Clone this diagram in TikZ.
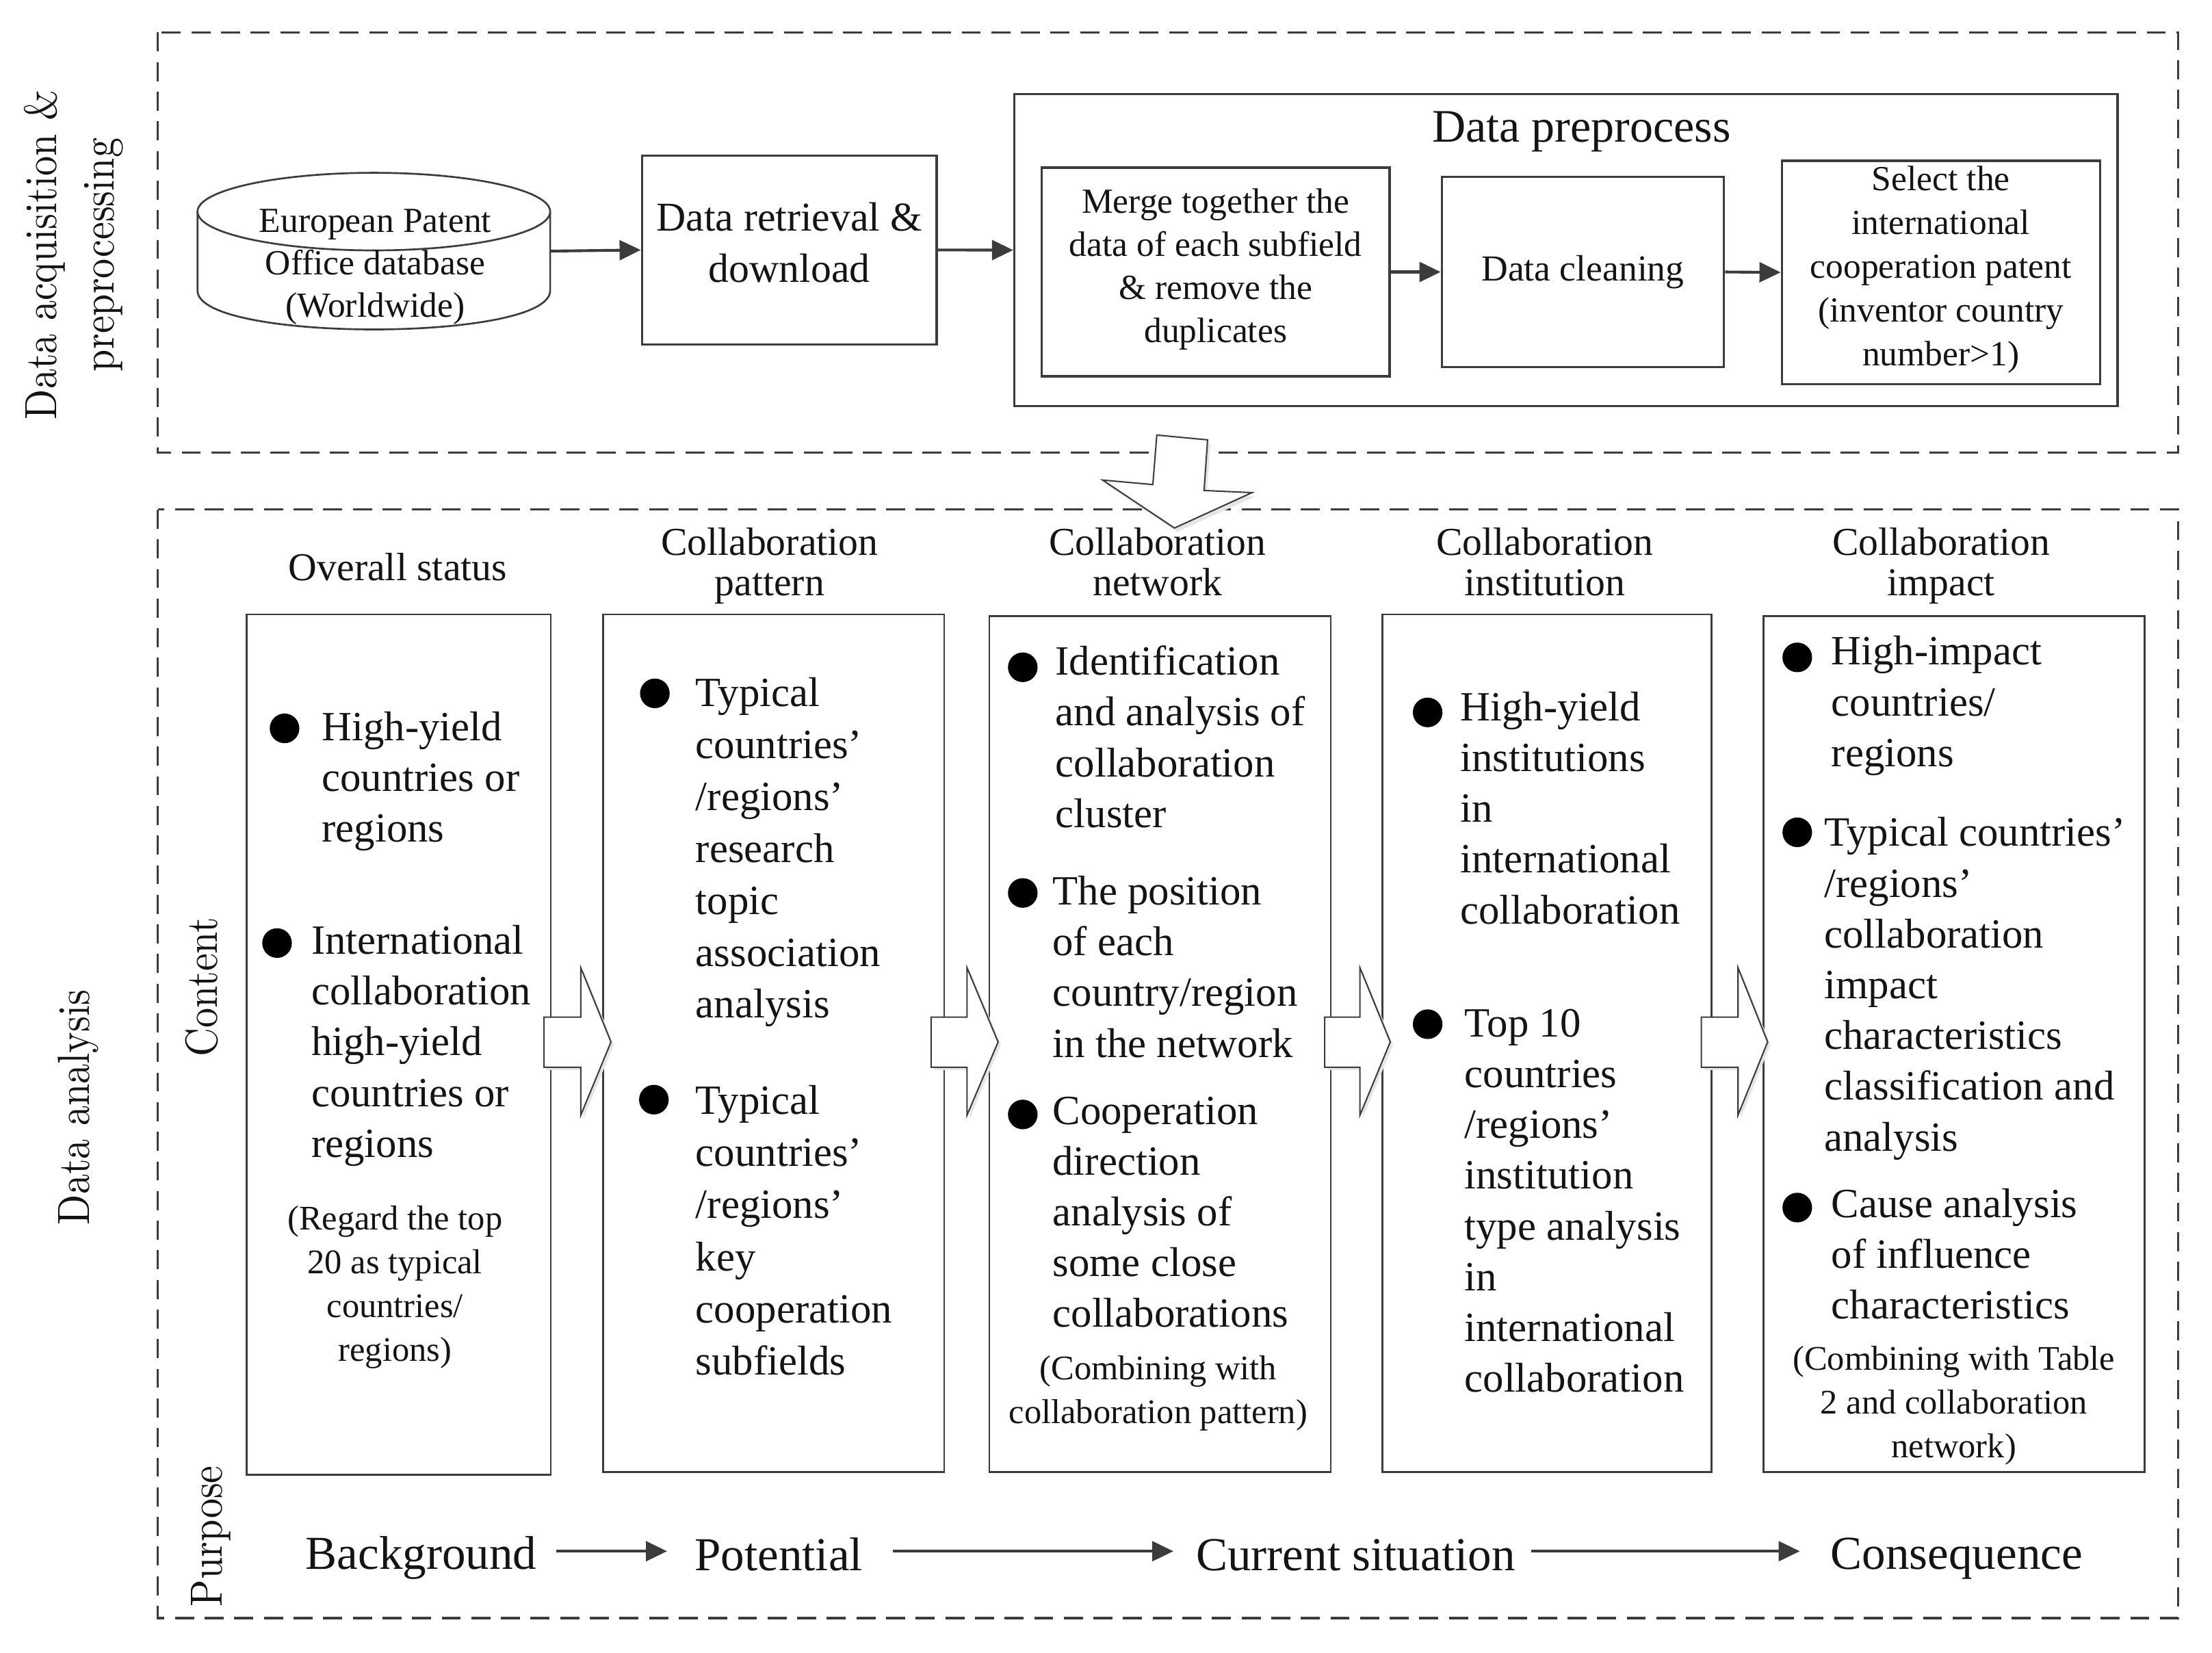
\documentclass[tikz,border=0pt]{standalone}
\usepackage{fontspec}
\setmainfont{Liberation Serif}
\newfontfamily\lmfont{lmroman10-regular.otf}
\usetikzlibrary{arrows.meta}
\definecolor{ln}{HTML}{3C3C3C}
\definecolor{tx}{HTML}{141414}
\newcommand\fsz[2]{\fontsize{#1}{#2}\selectfont}
\newcommand\hollowarr[3]{%
  \fill[black!10] (#1+2,723) -- (#2+2,723) -- (#2+2,688) -- (#3+2,740.6) -- (#2+2,792.5) -- (#2+2,758.5) -- (#1+2,758.5) -- cycle;
  \draw[hollow] (#1,721) -- (#2,721) -- (#2,686) -- (#3,738.6) -- (#2,790.5) -- (#2,756.5) -- (#1,756.5) -- cycle;}
\begin{document}
\begin{tikzpicture}[x=1pt, y=-1pt, line join=miter,
  dashbox/.style={draw=ln, line width=1.5pt, dash pattern=on 13.5pt off 7.5pt},
  struts/.style={execute at begin node=\strut, execute at end node=\strut},
  topbox/.style={draw=ln, line width=1.6pt, inner sep=0pt, align=center, text=tx, struts},
  colbox/.style={draw=ln, line width=1.4pt, inner sep=0pt},
  body/.style={font=\fsz{29.5}{36}, align=left, anchor=west, inner sep=0pt, text=tx, struts},
  note/.style={font=\fsz{24.5}{31}, align=center, inner sep=0pt, text=tx, struts},
  hdr/.style={font=\fsz{28}{29}, align=center, inner sep=0pt, text=tx, struts},
  bul/.style={circle, fill=black, inner sep=0pt, minimum size=21pt},
  rot/.style={font=\lmfont\fsz{32}{40.8}, rotate=90, xscale=0.88, inner sep=0pt, text=tx, align=center},
  flow/.style={draw=ln, line width=2pt, -{Triangle[length=15pt,width=14pt]}},
  hollow/.style={draw=ln, line width=1pt, fill=white},
  purp/.style={font=\fsz{33.5}{40}, inner sep=0pt, text=tx, execute at begin node={\rule[-6pt]{0pt}{39pt}}}
]
\useasboundingbox (0,0) rectangle (1568,1171.3);
\fill[white] (0,0) rectangle (1568,1171.3);

% ---------- dashed regions
\draw[dashbox] (111.8,23) rectangle (1544,321);
\draw[dashbox] (111.8,361.3) rectangle (1544,1147);

% ---------- side labels
\node[rot, struts, anchor=center] (labA) at (55.1,180.6) {Data acquisition \&\\preprocessing};
\node[rot, anchor=base] (labB) at (63.1,785) {Data analysis};
\node[rot, anchor=base] (labC) at (154,699.6) {Content};
\node[rot, anchor=base] (labD) at (157.6,1089) {Purpose};

% ---------- top row
\node[minimum width=250pt, minimum height=111pt, inner sep=0pt] (db) at (265,178) {};
\draw[ln, line width=1.3pt] (265,150) ellipse [x radius=125, y radius=27.5];
\draw[ln, line width=1.3pt] (140,150) -- (140,206) .. controls (140,242.7) and (390,242.7) .. (390,206) -- (390,150);
\node[font=\fsz{25}{30}, align=center, inner sep=0pt, text=tx, struts] (dbt) at (266,191) {European Patent\\Office database\\(Worldwide)};

\node[topbox, minimum width=209pt, minimum height=134pt, font=\fsz{29}{36}] (ret) at (559.5,177.2) {Data retrieval \&\\download};

\node[topbox, minimum width=782pt, minimum height=221pt] (pre) at (1110,177.3) {};
\node[font=\fsz{33}{40}, inner sep=0pt, text=tx, struts] (pret) at (1121,92.5) {Data preprocess};

\node[topbox, minimum width=246.5pt, minimum height=148pt, font=\fsz{25}{30.6}] (mrg) at (861.7,192.8) {Merge together the\\data of each subfield\\\& remove the\\duplicates};
\node[topbox, minimum width=200pt, minimum height=135pt, font=\fsz{26}{31}] (cln) at (1122,192.8) {Data cleaning};
\node[topbox, minimum width=225.6pt, minimum height=158.2pt, font=\fsz{25}{31.1}] (sel) at (1375.8,193.1) {Select the\\international\\cooperation patent\\(inventor country\\number>1)};

\draw[flow] (db.east) -- (ret.west);
\draw[flow] (ret.east) -- (pre.west);
\draw[flow] (mrg.east) -- (cln.west);
\draw[flow] (cln.east) -- (sel.west);

% ---------- big down arrow
\fill[black!10] (822,311) -- (858,314.5) -- (855.5,350.5) -- (889.5,352) -- (834.5,377) -- (783.6,343) -- (819.2,346.2) -- cycle;
\draw[hollow] (820,308.4) -- (856,311.8) -- (853.5,347.7) -- (887.5,349.2) -- (832.5,374.3) -- (781.6,340.3) -- (817.2,343.5) -- cycle;

% ---------- column headers
\node[hdr] (h1) at (282,405.5) {Overall status};
\node[hdr] (h2) at (545.5,402.5) {Collaboration\\pattern};
\node[hdr] (h3) at (820.5,402.5) {Collaboration\\network};
\node[hdr] (h4) at (1095,402.5) {Collaboration\\institution};
\node[hdr] (h5) at (1376,402.5) {Collaboration\\impact};

% ---------- column boxes
\node[colbox, minimum width=215.4pt, minimum height=609.8pt] (c1) at (282.7,740.4) {};
\node[colbox, minimum width=241.6pt, minimum height=608.1pt] (c2) at (548.5,739.55) {};
\node[colbox, minimum width=242pt, minimum height=606.7pt] (c3) at (822.3,740.25) {};
\node[colbox, minimum width=233.2pt, minimum height=608.1pt] (c4) at (1096.7,739.55) {};
\node[colbox, minimum width=270pt, minimum height=606.7pt] (c5) at (1385.2,740.25) {};

% ---------- hollow arrows between columns
\hollowarr{385.6}{411.7}{433.1}
\hollowarr{660}{685.5}{707.5}
\hollowarr{939}{964}{985.5}
\hollowarr{1206}{1232}{1253}

% ---------- column 1
\node[bul] (u1a) at (201.7,516.3) {};
\node[body] (t1a) at (228,556) {High-yield\\countries or\\regions};
\node[bul] (u1b) at (196.4,668.5) {};
\node[body] (t1b) at (220.5,743.5) {International\\collaboration\\high-yield\\countries or\\regions};
\node[note] (n1) at (280,914.5) {(Regard the top\\20 as typical\\countries/\\regions)};

% ---------- column 2
\node[bul] (u2a) at (464.2,491.5) {};
\node[body, font=\fsz{29.5}{36.8}] (t2a) at (493,606.5) {Typical\\countries’\\/regions’\\research\\topic\\association\\analysis};
\node[bul] (u2b) at (463.5,779.5) {};
\node[body, font=\fsz{29.5}{37}] (t2b) at (493,877.5) {Typical\\countries’\\/regions’\\key\\cooperation\\subfields};

% ---------- column 3
\node[bul] (u3a) at (725,473) {};
\node[body] (t3a) at (748,527.5) {Identification\\and analysis of\\collaboration\\cluster};
\node[bul] (u3b) at (725,633) {};
\node[body] (t3b) at (746,690.5) {The position\\of each\\country/region\\in the network};
\node[bul] (u3c) at (725,790) {};
\node[body] (t3c) at (746,864.5) {Cooperation\\direction\\analysis of\\some close\\collaborations};
\node[note] (n3) at (821,989.5) {(Combining with\\collaboration pattern)};

% ---------- column 4
\node[bul] (u4a) at (1012,505) {};
\node[body] (t4a) at (1035,578) {High-yield\\institutions\\in\\international\\collaboration};
\node[bul] (u4b) at (1012,726) {};
\node[body] (t4b) at (1038,856.5) {Top 10\\countries\\/regions’\\institution\\type analysis\\in\\international\\collaboration};

% ---------- column 5
\node[bul] (u5a) at (1274,466) {};
\node[body] (t5a) at (1298,502.5) {High-impact\\countries/\\regions};
\node[bul] (u5b) at (1274,590) {};
\node[body] (t5b) at (1293,703) {Typical countries’\\/regions’\\collaboration\\impact\\characteristics\\classification and\\analysis};
\node[bul] (u5c) at (1274,856) {};
\node[body] (t5c) at (1298,894) {Cause analysis\\of influence\\characteristics};
\node[note] (n5) at (1385,998.5) {(Combining with Table\\2 and collaboration\\network)};

% ---------- purpose row
\node[purp] (bg) at (298.5,1099.6) {Background};
\node[purp] (pot) at (552,1099.6) {Potential};
\node[purp] (cur) at (961,1099.6) {Current situation};
\node[purp] (con) at (1387,1099.6) {Consequence};
\draw[flow, shorten <=13.6pt, shorten >=19.4pt] (bg.east) -- (pot.west);
\draw[flow, shorten <=21pt, shorten >=16pt] (pot.east) -- (cur.west);
\draw[flow, shorten <=11pt, shorten >=21.7pt] (cur.east) -- (con.west);
\end{tikzpicture}
\end{document}
